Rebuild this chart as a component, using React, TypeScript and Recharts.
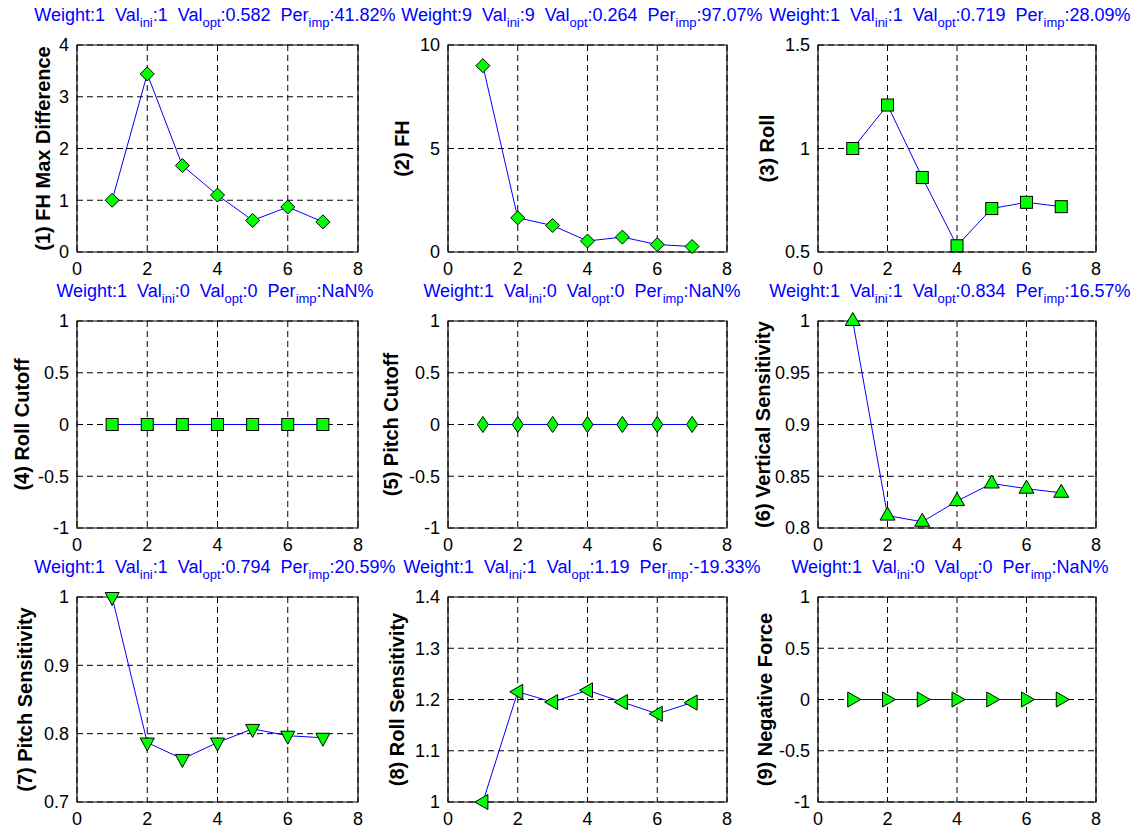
import React from 'react';
import { LineChart, Line, XAxis, YAxis, CartesianGrid, ReferenceArea } from 'recharts';

// ---------- data ----------
const iterations = [1, 2, 3, 4, 5, 6, 7];
const fhMaxDifference = [1, 3.44, 1.67, 1.1, 0.61, 0.87, 0.582];
const fh = [9, 1.65, 1.28, 0.53, 0.72, 0.36, 0.264];
const roll = [1, 1.21, 0.86, 0.53, 0.71, 0.74, 0.719];
const rollCutoff = [0, 0, 0, 0, 0, 0, 0];
const pitchCutoff = [0, 0, 0, 0, 0, 0, 0];
const verticalSensitivity = [1, 0.812, 0.806, 0.826, 0.843, 0.838, 0.834];
const pitchSensitivity = [1, 0.787, 0.763, 0.787, 0.807, 0.797, 0.794];
const rollSensitivity = [1, 1.215, 1.195, 1.218, 1.195, 1.172, 1.194];
const negativeForce = [0, 0, 0, 0, 0, 0, 0];

const yLabels = [
  '(1) FH Max Difference', '(2) FH', '(3) Roll',
  '(4) Roll Cutoff', '(5) Pitch Cutoff', '(6) Vertical Sensitivity',
  '(7) Pitch Sensitivity', '(8) Roll Sensitivity', '(9) Negative Force',
];
const weights = ['1', '9', '1', '1', '1', '1', '1', '1', '1'];
const valIni = ['1', '9', '1', '0', '0', '1', '1', '1', '0'];
const valOpt = ['0.582', '0.264', '0.719', '0', '0', '0.834', '0.794', '1.19', '0'];
const perImp = ['41.82%', '97.07%', '28.09%', 'NaN%', 'NaN%', '16.57%', '20.59%', '-19.33%', 'NaN%'];

const xTicks = [0, 2, 4, 6, 8];
const yTicks = [
  [0, 1, 2, 3, 4],
  [0, 5, 10],
  [0.5, 1, 1.5],
  [-1, -0.5, 0, 0.5, 1],
  [-1, -0.5, 0, 0.5, 1],
  [0.8, 0.85, 0.9, 0.95, 1],
  [0.7, 0.8, 0.9, 1],
  [1, 1.1, 1.2, 1.3, 1.4],
  [-1, -0.5, 0, 0.5, 1],
];
const seriesList = [
  fhMaxDifference, fh, roll, rollCutoff, pitchCutoff,
  verticalSensitivity, pitchSensitivity, rollSensitivity, negativeForce,
];
const markers = ['diamond', 'diamond', 'square', 'square', 'diamondThin', 'triUp', 'triDown', 'triLeft', 'triRight'];

// ---------- layout ----------
const colLeft = [77, 448, 818];
const colWidth = [281, 279, 278];
const rowTop = [45, 321, 597];
const rowHeight = [207, 207, 205];
const titleCenter = [215, 582, 950];
const yLabelX = [
  [43, 402, 767],
  [22, 391, 763],
  [25, 397, 765],
];

const FONT = '"Liberation Sans", Arial, Helvetica, sans-serif';
const GREEN = '#00ff00';
const BLUE = '#0000ff';

function MarkerShape({ cx, cy, shape }: { cx: number; cy: number; shape: string }) {
  const common = { fill: GREEN, stroke: '#000', strokeWidth: 1 };
  if (cx == null || cy == null) return null;
  switch (shape) {
    case 'diamond':
      return <polygon {...common} points={`${cx},${cy - 7} ${cx + 7},${cy} ${cx},${cy + 7} ${cx - 7},${cy}`} />;
    case 'diamondThin':
      return <polygon {...common} points={`${cx},${cy - 8} ${cx + 5.5},${cy} ${cx},${cy + 8} ${cx - 5.5},${cy}`} />;
    case 'square':
      return <rect {...common} x={cx - 6} y={cy - 6} width={12} height={12} />;
    case 'triUp':
      return <polygon {...common} points={`${cx},${cy - 8.5} ${cx + 7.5},${cy + 4.5} ${cx - 7.5},${cy + 4.5}`} />;
    case 'triDown':
      return <polygon {...common} points={`${cx},${cy + 8.5} ${cx + 7},${cy - 4.5} ${cx - 7},${cy - 4.5}`} />;
    case 'triLeft':
      return <polygon {...common} points={`${cx - 8},${cy} ${cx + 5},${cy - 7.5} ${cx + 5},${cy + 7.5}`} />;
    case 'triRight':
      return <polygon {...common} points={`${cx + 8},${cy} ${cx - 5},${cy - 7.5} ${cx - 5},${cy + 7.5}`} />;
    default:
      return null;
  }
}

const ML = 70; // yaxis width
const MT = 12;
const MR = 12;
const XH = 40;

function Panel({ idx }: { idx: number }) {
  const r = Math.floor(idx / 3);
  const c = idx % 3;
  const pl = colLeft[c];
  const pt = rowTop[r];
  const pw = colWidth[c];
  const ph = rowHeight[r];
  const ticks = yTicks[idx];
  const data = iterations.map((x, i) => ({ x, y: seriesList[idx][i] }));
  const shape = markers[idx];
  const W = pw + ML + MR;
  const H = ph + MT + XH;
  return (
    <div style={{ position: 'absolute', left: pl - ML, top: pt - MT, width: W, height: H }}>
      <LineChart width={W} height={H} data={data} margin={{ top: MT, right: MR, left: 0, bottom: 0 }} style={{ overflow: 'visible' }}>
        <CartesianGrid stroke="#000" strokeDasharray="6 4" strokeWidth={1} />
        <XAxis
          dataKey="x"
          type="number"
          domain={[0, 8]}
          ticks={xTicks}
          height={XH}
          axisLine={false}
          tickLine={false}
          tickSize={0}
          tickMargin={10}
          interval={0}
          tick={{ fill: '#000', fontSize: 18, fontFamily: FONT }}
        />
        <YAxis
          type="number"
          domain={[ticks[0], ticks[ticks.length - 1]]}
          ticks={ticks}
          width={ML}
          axisLine={false}
          tickLine={false}
          tickSize={0}
          tickMargin={8}
          interval={0}
          tick={{ fill: '#000', fontSize: 18, fontFamily: FONT }}
        />
        <ReferenceArea
          x1={0}
          x2={8}
          y1={ticks[0]}
          y2={ticks[ticks.length - 1]}
          fill="none"
          fillOpacity={0}
          stroke="#000"
          strokeWidth={1.2}
        />
        <Line
          dataKey="y"
          stroke={BLUE}
          strokeWidth={1}
          isAnimationActive={false}
          dot={(p: any) => <MarkerShape key={`m-${p.index}`} cx={p.cx} cy={p.cy} shape={shape} />}
          activeDot={false}
        />
      </LineChart>
    </div>
  );
}

function Title({ idx }: { idx: number }) {
  const r = Math.floor(idx / 3);
  const c = idx % 3;
  const y = rowTop[r] - 24;
  return (
    <text x={titleCenter[c]} y={y} textAnchor="middle" fill={BLUE} fontSize={18} fontFamily={FONT} xmlSpace="preserve">
      <tspan>{`Weight:${weights[idx]}  Val`}</tspan>
      <tspan fontSize={13} dy={6}>ini</tspan>
      <tspan dy={-6}>{`:${valIni[idx]}  Val`}</tspan>
      <tspan fontSize={13} dy={6}>opt</tspan>
      <tspan dy={-6}>{`:${valOpt[idx]}  Per`}</tspan>
      <tspan fontSize={13} dy={6}>imp</tspan>
      <tspan dy={-6}>{`:${perImp[idx]}`}</tspan>
    </text>
  );
}

function YLabel({ idx }: { idx: number }) {
  const r = Math.floor(idx / 3);
  const c = idx % 3;
  const x = yLabelX[r][c];
  const y = rowTop[r] + rowHeight[r] / 2;
  return (
    <text
      x={x}
      y={y}
      transform={`rotate(-90 ${x} ${y})`}
      textAnchor="middle"
      dominantBaseline="central"
      fill="#000"
      fontSize={20}
      fontWeight="bold"
      fontFamily={FONT}
    >
      {yLabels[idx]}
    </text>
  );
}

export default function App() {
  const ids = [0, 1, 2, 3, 4, 5, 6, 7, 8];
  return (
    <div style={{ position: 'absolute', left: 0, top: 0, width: 1146, height: 839, background: '#fff', overflow: 'hidden' }}>
      {ids.map((i) => (
        <Panel key={i} idx={i} />
      ))}
      <svg width={1146} height={839} style={{ position: 'absolute', left: 0, top: 0, pointerEvents: 'none' }}>
        {ids.map((i) => (
          <Title key={`t${i}`} idx={i} />
        ))}
        {ids.map((i) => (
          <YLabel key={`l${i}`} idx={i} />
        ))}
      </svg>
    </div>
  );
}
